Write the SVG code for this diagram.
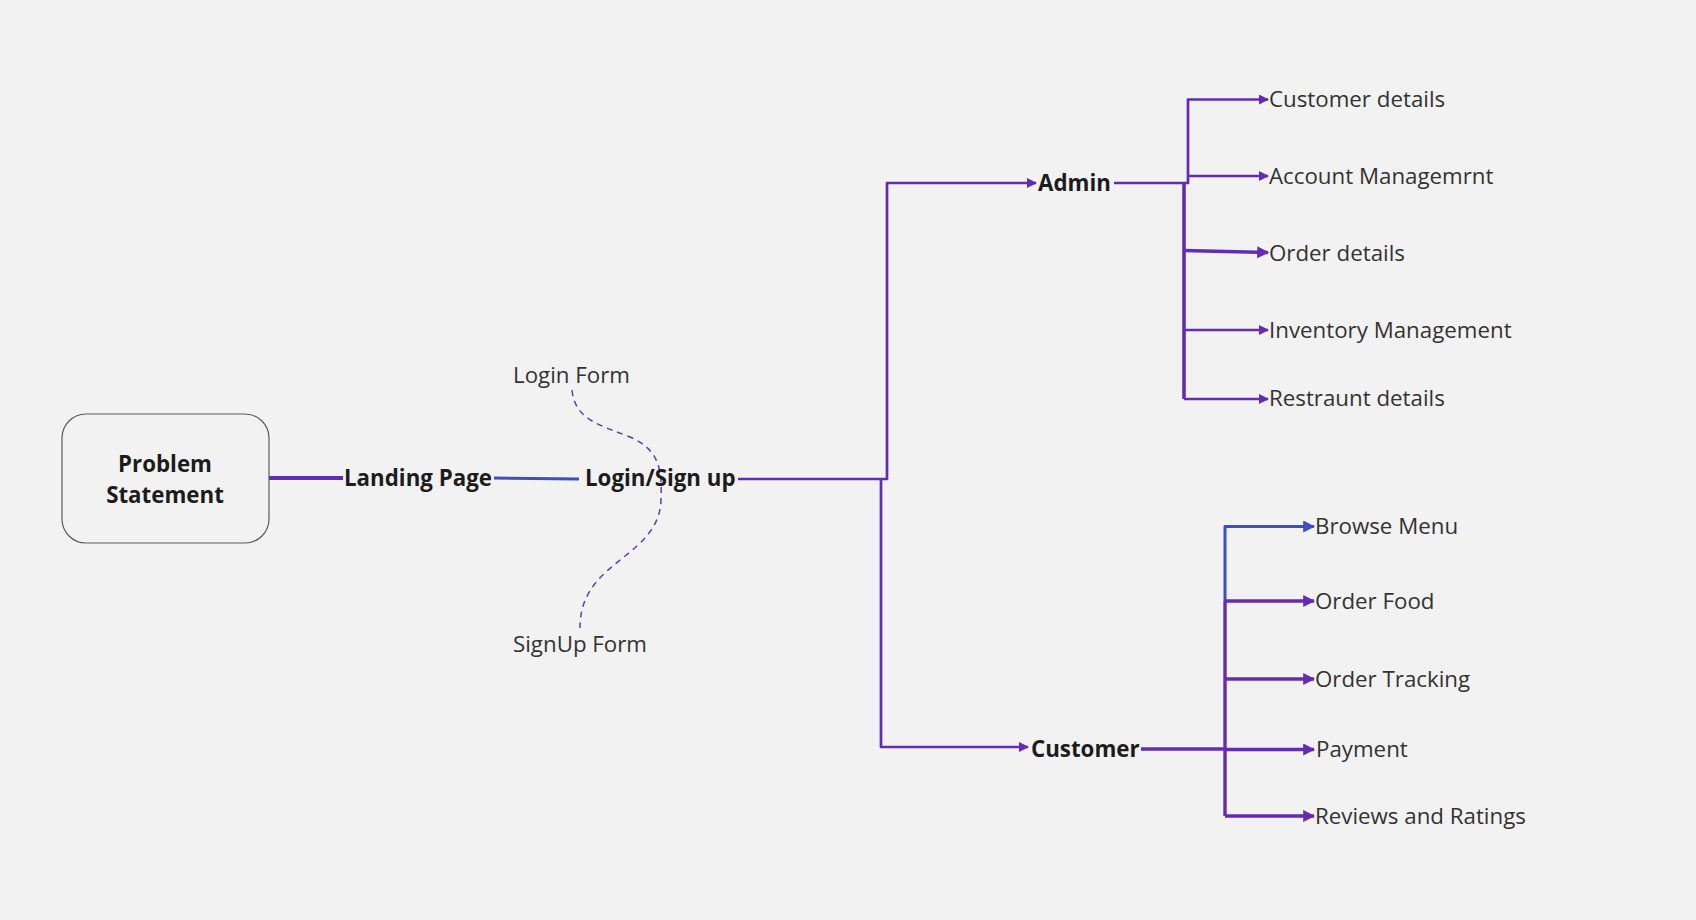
<svg xmlns="http://www.w3.org/2000/svg" width="1696" height="920" viewBox="0 0 1696 920">
<style>
.bg{fill:#f2f2f2}
.box{fill:#f2f2f2;stroke:#5a5a5a;stroke-width:1.2}
.bold{font-family:"Open Sans","Noto Sans","Liberation Sans",sans-serif;font-weight:700;font-size:22.3px;fill:#1c1c1c}
.lbl{font-family:"Open Sans","Noto Sans","Liberation Sans",sans-serif;font-weight:400;font-size:22.3px;fill:#333333}
.p{fill:none;stroke:#652cb3;stroke-width:2.7;stroke-linejoin:round}
.pt{fill:none;stroke:#652cb3;stroke-width:3.4;stroke-linejoin:round}
.b{fill:none;stroke:#3f4fbf;stroke-width:3;stroke-linejoin:round}
.dash{fill:none;stroke:#5a3fb3;stroke-width:1.5;stroke-dasharray:6 5}
</style>
<defs>
<marker id="ap" viewBox="0 0 10 10" refX="9" refY="5" markerWidth="10" markerHeight="10" markerUnits="userSpaceOnUse" orient="auto">
<path d="M0,0 L10,5 L0,10 z" fill="#652cb3"/>
</marker>
<marker id="apl" viewBox="0 0 10 10" refX="9" refY="5" markerWidth="12" markerHeight="12" markerUnits="userSpaceOnUse" orient="auto">
<path d="M0,0 L10,5 L0,10 z" fill="#652cb3"/>
</marker>
<marker id="ab" viewBox="0 0 10 10" refX="9" refY="5" markerWidth="12" markerHeight="12" markerUnits="userSpaceOnUse" orient="auto">
<path d="M0,0 L10,5 L0,10 z" fill="#3f4fbf"/>
</marker>
</defs>
<rect class="bg" x="0" y="0" width="1696" height="920"/>

<g id="connectors">
<path class="pt" d="M269 478 H343" style="stroke-width:4.2"/>
<path class="b" d="M494 478 L579 479"/>
<path class="p" d="M738 479 H887 V183 H1036" marker-end="url(#ap)"/>
<path class="p" d="M881 479 V747 H1028" marker-end="url(#ap)"/>
<path class="p" d="M1114 183 H1188 V99.5 H1268" marker-end="url(#ap)"/>
<path class="p" d="M1188 176 H1268" marker-end="url(#ap)"/>
<path class="pt" d="M1184 183 V399" style="stroke-width:3.6"/>
<path class="pt" d="M1184 250.5 L1268 252.5" marker-end="url(#apl)"/>
<path class="p" d="M1184 330 H1268" marker-end="url(#ap)"/>
<path class="p" d="M1184 399 H1268" marker-end="url(#ap)"/>
<path class="pt" d="M1141 749 H1225"/>
<path class="b" d="M1313 526.5 H1225 V601"/>
<path class="b" d="M1226 526.5 H1314" marker-end="url(#ab)"/>
<path class="pt" d="M1225 601 V816"/>
<path class="pt" d="M1225 601 H1314" marker-end="url(#apl)"/>
<path class="pt" d="M1225 679 H1314" marker-end="url(#apl)"/>
<path class="pt" d="M1225 749.5 H1314" marker-end="url(#apl)"/>
<path class="pt" d="M1225 816 H1314" marker-end="url(#apl)"/>
<path class="dash" d="M572 390 C575 420 600 425 630 437 C660 450 662 470 661 500 C660 540 620 555 598 580 C585 595 580 610 580 628"/>
</g>

<g id="problem-statement">
<rect class="box" x="62" y="414" width="207" height="129" rx="24"/>
<text class="bold" x="165" y="472" text-anchor="middle">Problem</text>
<text class="bold" x="165" y="503" text-anchor="middle">Statement</text>
</g>
<g id="landing-page"><text class="bold" x="344" y="486">Landing Page</text></g>
<g id="login-signup"><text class="bold" x="585" y="486">Login/Sign up</text></g>
<g id="login-form"><text class="lbl" x="513" y="383">Login Form</text></g>
<g id="signup-form"><text class="lbl" x="513" y="652">SignUp Form</text></g>
<g id="admin"><text class="bold" x="1038" y="191">Admin</text></g>
<g id="customer"><text class="bold" x="1031" y="757">Customer</text></g>

<g id="customer-details"><text class="lbl" x="1269" y="107">Customer details</text></g>
<g id="account-management"><text class="lbl" x="1269" y="184">Account Managemrnt</text></g>
<g id="order-details"><text class="lbl" x="1269" y="261">Order details</text></g>
<g id="inventory-management"><text class="lbl" x="1269" y="338">Inventory Management</text></g>
<g id="restraunt-details"><text class="lbl" x="1269" y="406">Restraunt details</text></g>

<g id="browse-menu"><text class="lbl" x="1315" y="534">Browse Menu</text></g>
<g id="order-food"><text class="lbl" x="1315" y="609">Order Food</text></g>
<g id="order-tracking"><text class="lbl" x="1315" y="687">Order Tracking</text></g>
<g id="payment"><text class="lbl" x="1316" y="757">Payment</text></g>
<g id="reviews-ratings"><text class="lbl" x="1315" y="824">Reviews and Ratings</text></g>
</svg>
